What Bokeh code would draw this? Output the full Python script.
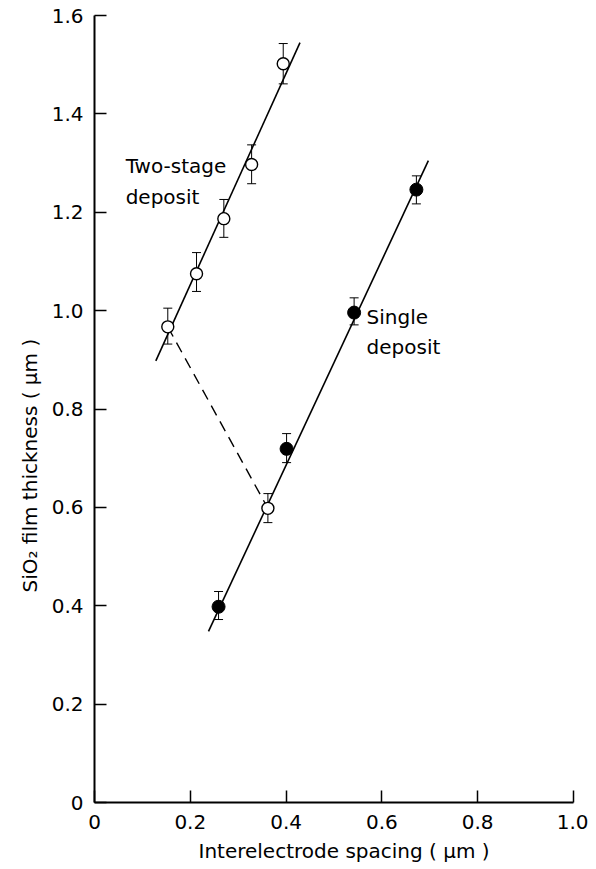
from bokeh.plotting import figure
from bokeh.models import (Range1d, FixedTicker, Whisker, TeeHead, ColumnDataSource, Label, Title)
from bokeh.embed import file_html
from bokeh.resources import INLINE

# Two-stage deposit (open circles)
two_x = [0.153, 0.213, 0.270, 0.328, 0.394]
two_y = [0.967, 1.075, 1.187, 1.297, 1.502]
two_lo = [0.932, 1.039, 1.149, 1.258, 1.461]
two_hi = [1.005, 1.118, 1.226, 1.337, 1.543]

# Two-stage point at larger spacing
two_b_x = [0.362]
two_b_y = [0.598]
two_b_lo = [0.569]
two_b_hi = [0.628]

# Single deposit (filled circles)
single_x = [0.259, 0.401, 0.542, 0.672]
single_y = [0.398, 0.719, 0.996, 1.246]
single_lo = [0.372, 0.691, 0.971, 1.217]
single_hi = [0.429, 0.750, 1.026, 1.274]

# Fitted lines (end points)
fit_two_x = [0.128, 0.429]
fit_two_y = [0.898, 1.545]
fit_single_x = [0.238, 0.697]
fit_single_y = [0.348, 1.305]
dash_x = [0.153, 0.362]
dash_y = [0.967, 0.598]

x_ticks = [0, 0.2, 0.4, 0.6, 0.8, 1.0]
x_labels = ["0", "0.2", "0.4", "0.6", "0.8", "1.0"]
y_ticks = [0, 0.2, 0.4, 0.6, 0.8, 1.0, 1.2, 1.4, 1.6]
y_labels = ["0", "0.2", "0.4", "0.6", "0.8", "1.0", "1.2", "1.4", "1.6"]

x_title = "Interelectrode spacing ( μm )"
y_title = "SiO₂ film thickness ( μm )"

FONT = "DejaVu Sans"
FS_TICK = "20px"
FS_AX = "20px"
FS_ANN = "20px"

p = figure(width=588, height=868, output_backend="svg", toolbar_location=None,
           x_range=Range1d(0, 1.0), y_range=Range1d(0, 1.6),
           min_border_left=94, min_border_right=15, min_border_top=15, min_border_bottom=66)
p.outline_line_color = None
p.xgrid.visible = False
p.ygrid.visible = False
p.background_fill_color = "white"

for ax, ticks, labels in ((p.xaxis[0], x_ticks, x_labels), (p.yaxis[0], y_ticks, y_labels)):
    ax.ticker = FixedTicker(ticks=ticks)
    ax.major_label_overrides = {t: l for t, l in zip(ticks, labels)}
    ax.major_tick_in = 12
    ax.major_tick_out = 0
    ax.minor_tick_line_color = None
    ax.axis_line_width = 2
    ax.major_tick_line_width = 1.5
    ax.axis_line_color = "black"
    ax.major_tick_line_color = "black"
    ax.major_label_text_font = FONT
    ax.major_label_text_font_size = FS_TICK
    ax.major_label_text_color = "black"

p.xaxis[0].major_label_standoff = 12
p.yaxis[0].major_label_standoff = 11

# axis titles (offset along the axis as in the original)
p.add_layout(Title(text=x_title, align="left", offset=104, standoff=11,
                   text_font=FONT, text_font_size=FS_AX, text_font_style="normal",
                   text_color="black"), "below")
p.add_layout(Title(text=y_title, align="left", offset=210, standoff=14,
                   text_font=FONT, text_font_size=FS_AX, text_font_style="normal",
                   text_color="black"), "left")

# lines
p.line(fit_two_x, fit_two_y, line_color="black", line_width=1.6)
p.line(fit_single_x, fit_single_y, line_color="black", line_width=1.6)
p.line(dash_x, dash_y, line_color="black", line_width=1.4, line_dash="11 7")

# error bars
for xs, lo, hi in ((two_x, two_lo, two_hi), (two_b_x, two_b_lo, two_b_hi), (single_x, single_lo, single_hi)):
    src = ColumnDataSource(dict(x=xs, lo=lo, hi=hi))
    w = Whisker(source=src, base="x", lower="lo", upper="hi", dimension="height",
                line_color="black", line_width=1,
                upper_head=TeeHead(size=9, line_color="black", line_width=1),
                lower_head=TeeHead(size=9, line_color="black", line_width=1))
    p.add_layout(w)

# markers
p.scatter(two_x, two_y, size=12, marker="circle", fill_color="white", line_color="black", line_width=1.4)
p.scatter(two_b_x, two_b_y, size=12, marker="circle", fill_color="white", line_color="black", line_width=1.4)
p.scatter(single_x, single_y, size=13, marker="circle", fill_color="black", line_color="black")

# annotations
p.add_layout(Label(x=0.065, y=1.319, text="Two-stage\ndeposit", text_font=FONT, text_font_size=FS_ANN,
                   text_color="black", text_line_height=1.3, text_baseline="top"))
p.add_layout(Label(x=0.568, y=1.012, text="Single\ndeposit", text_font=FONT, text_font_size=FS_ANN,
                   text_color="black", text_line_height=1.28, text_baseline="top"))

open("out.html", "w").write(file_html(p, INLINE))
